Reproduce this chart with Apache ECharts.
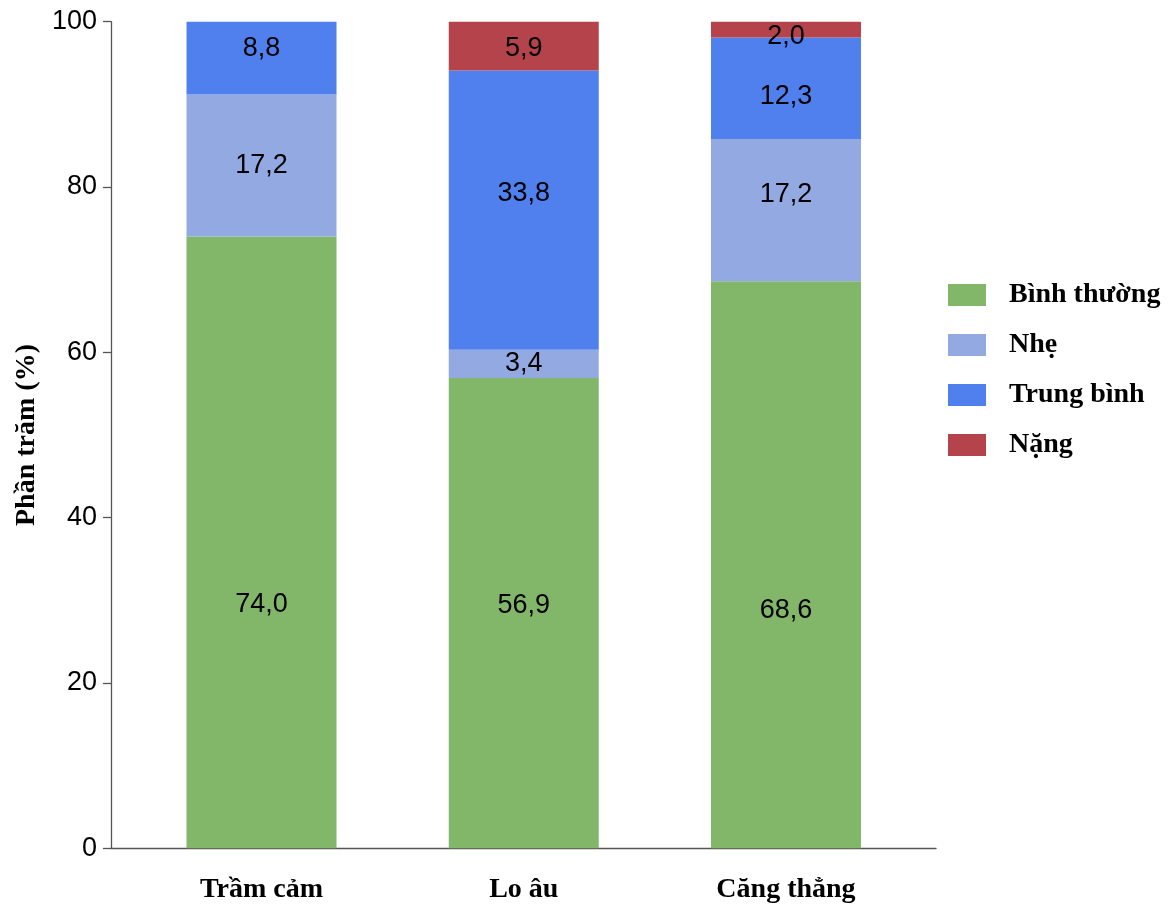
<!DOCTYPE html>
<html>
<head>
<meta charset="utf-8">
<script src="https://cdn.jsdelivr.net/npm/echarts@6/dist/echarts.min.js"></script>
<style>
  html, body { margin: 0; padding: 0; background: #fff; }
  #chart { width: 1173px; height: 904px; }
</style>
</head>
<body>
<div id="chart"></div>
<script>
// Mức độ trầm cảm, lo âu, căng thẳng (%)
const categories = ['Trầm cảm', 'Lo âu', 'Căng thẳng'];
const binhThuong = [74.0, 56.9, 68.6];
const nhe = [17.2, 3.4, 17.2];
const trungBinh = [8.8, 33.8, 12.3];
const nang = [0, 5.9, 2.0];
const yTicks = [0, 20, 40, 60, 80, 100];

// vertical nudges (px) of the value labels inside each segment
const labelNudge = {
  'Bình thường': [62, -8, 46],
  'Nhẹ': [0, 0, -16],
  'Trung bình': [-10, -17, 8],
  'Nặng': [0, 2, 7]
};

const sans = '"Liberation Sans", Arial, sans-serif';
const serif = '"Liberation Serif", "Times New Roman", serif';

function fmt(v) {
  return v.toFixed(1).replace('.', ',');
}

function seriesOf(name, values, color) {
  const nudge = labelNudge[name];
  return {
    name: name,
    type: 'bar',
    stack: 'total',
    xAxisIndex: 1,
    yAxisIndex: 1,
    barWidth: 150,
    data: values.map((v, i) => ({
      value: v,
      label: { offset: [0, nudge[i]] }
    })),
    itemStyle: { color: color },
    label: {
      show: true,
      position: 'inside',
      color: '#000',
      fontFamily: sans,
      fontSize: 27,
      formatter: p => (p.value ? fmt(p.value) : '')
    },
    emphasis: { disabled: true }
  };
}

const chart = echarts.init(document.getElementById('chart'), null, { renderer: 'canvas' });
chart.setOption({
  animation: false,
  backgroundColor: '#fff',
  grid: [
    { left: 111, right: 237, top: 21.7, bottom: 55.7, outerBoundsMode: 'none', containLabel: false },
    { left: 130.4, right: 255.9, top: 21.7, bottom: 55.7, outerBoundsMode: 'none', containLabel: false }
  ],
  legend: {
    orient: 'vertical',
    left: 948,
    top: 281,
    padding: 0,
    itemWidth: 38,
    itemHeight: 22,
    itemGap: 22,
    icon: 'rect',
    textStyle: { fontFamily: serif, fontWeight: 'bold', fontSize: 28, color: '#000', padding: [0, 0, 0, 18] },
    data: ['Bình thường', 'Nhẹ', 'Trung bình', 'Nặng']
  },
  xAxis: [
    {
      gridIndex: 0,
      type: 'value',
      min: 0,
      max: 1,
      axisLine: { show: true, lineStyle: { color: '#555', width: 1.3 } },
      axisTick: { show: false },
      axisLabel: { show: false },
      splitLine: { show: false }
    },
    {
      gridIndex: 1,
      type: 'category',
      data: categories,
      axisLine: { show: false },
      axisTick: { show: false },
      axisLabel: { fontFamily: serif, fontWeight: 'bold', fontSize: 28, color: '#000', margin: 27 }
    }
  ],
  yAxis: [
    {
      gridIndex: 0,
      type: 'value',
      min: yTicks[0],
      max: yTicks[yTicks.length - 1],
      interval: 20,
      name: 'Phần trăm (%)',
      nameLocation: 'middle',
      nameGap: 65,
      nameTextStyle: { fontFamily: serif, fontWeight: 'bold', fontSize: 28, color: '#000' },
      axisLine: { show: true, lineStyle: { color: '#555', width: 1.3 } },
      axisTick: { show: true, inside: false, length: 8, lineStyle: { color: '#555', width: 1.3 } },
      axisLabel: { fontFamily: sans, fontSize: 27, color: '#000', margin: 14 },
      splitLine: { show: false }
    },
    {
      gridIndex: 1,
      type: 'value',
      min: 0,
      max: 100,
      show: false,
      splitLine: { show: false }
    }
  ],
  series: [
    seriesOf('Bình thường', binhThuong, '#82b76a'),
    seriesOf('Nhẹ', nhe, '#93a9e2'),
    seriesOf('Trung bình', trungBinh, '#4f80ee'),
    seriesOf('Nặng', nang, '#b5434b')
  ]
});
</script>
</body>
</html>
